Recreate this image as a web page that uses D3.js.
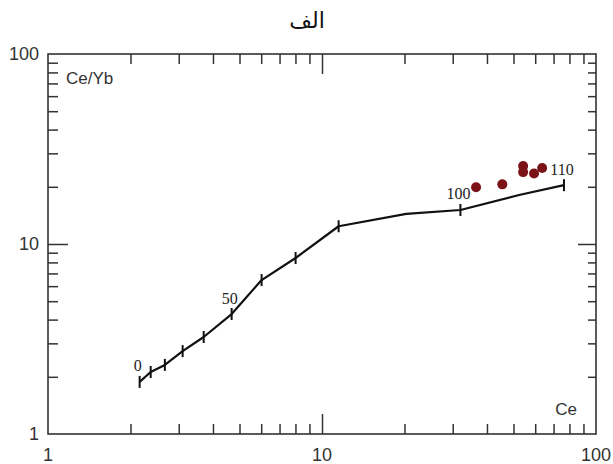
<!DOCTYPE html>
<html>
<head>
<meta charset="utf-8">
<script src="https://cdn.jsdelivr.net/npm/d3@7"></script>
<style>
  body { margin: 0; background: #fff; }
  svg { display: block; }
</style>
</head>
<body>
<div id="vis"></div>
<script>
// ── CONFIG ─────────────────────────────────────────────────────────────
const width  = 613;
const height = 464;
const margin = { top: 54, right: 17, bottom: 30, left: 48 };

// ── DATA ───────────────────────────────────────────────────────────────
// melting curve: Ce (x) vs Ce/Yb (y), with % labels on the ticks
const curveCe   = [2.16, 2.37, 2.67, 3.10, 3.70, 4.68, 6.02, 8.01, 11.5, 20.3, 32.0, 52.4, 76.4];
const curveCeYb = [1.88, 2.12, 2.31, 2.73, 3.24, 4.28, 6.46, 8.44, 12.4, 14.4, 15.1, 18.1, 20.4];
const curveStep = [0, 10, 20, 30, 40, 50, 60, 70, 80, null, 100, null, 110];
const labelledSteps = [0, 50, 100, 110];

// samples
const sampleCe   = [36.5, 45.5, 54.2, 54.2, 59.4, 63.6];
const sampleCeYb = [19.9, 20.6, 25.7, 23.9, 23.5, 25.1];

const majorTicks = [1, 10, 100];
const minorTicks = [2, 3, 4, 5, 6, 7, 8, 9, 20, 30, 40, 50, 60, 70, 80, 90];

const title = "الف";
const xLabel = "Ce";
const yLabel = "Ce/Yb";

// ── SVG ────────────────────────────────────────────────────────────────
const svg = d3.select("#vis").append("svg")
    .attr("width", width)
    .attr("height", height);

const x = d3.scaleLog([1, 100], [margin.left, width - margin.right]);
const y = d3.scaleLog([1, 100], [height - margin.bottom, margin.top]);

const axisColor = "#333";

// title
svg.append("text")
    .attr("x", 307).attr("y", 20)
    .attr("text-anchor", "middle")
    .attr("dominant-baseline", "central")
    .style("font", "22px 'DejaVu Serif', 'DejaVu Sans', serif")
    .attr("fill", "#111")
    .text(title);

// frame
svg.append("rect")
    .attr("x", x(1)).attr("y", y(100))
    .attr("width", x(100) - x(1))
    .attr("height", y(1) - y(100))
    .attr("fill", "none")
    .attr("stroke", axisColor)
    .attr("stroke-width", 1.6);

// inward ticks on all four sides
function tickAxis(axisFn, scale, values, size, transform) {
  const g = svg.append("g")
      .attr("transform", transform)
      .call(axisFn(scale).tickValues(values).tickSize(-size).tickFormat(""));
  g.select(".domain").remove();
  g.selectAll(".tick line").attr("stroke", axisColor).attr("stroke-width", 1.5);
}
const inner = [10];
tickAxis(d3.axisBottom, x, minorTicks, 10, `translate(0,${y(1)})`);
tickAxis(d3.axisBottom, x, inner, 20, `translate(0,${y(1)})`);
tickAxis(d3.axisTop, x, minorTicks, 10, `translate(0,${y(100)})`);
tickAxis(d3.axisTop, x, inner, 20, `translate(0,${y(100)})`);
tickAxis(d3.axisLeft, y, minorTicks, 10, `translate(${x(1)},0)`);
tickAxis(d3.axisLeft, y, inner, 20, `translate(${x(1)},0)`);
tickAxis(d3.axisRight, y, minorTicks, 8, `translate(${x(100)},0)`);
tickAxis(d3.axisRight, y, inner, 18, `translate(${x(100)},0)`);

// tick labels
const labelFont = "18px 'Liberation Sans', Arial, sans-serif";
svg.append("g").selectAll("text")
  .data(majorTicks)
  .join("text")
    .attr("x", d => x(d))
    .attr("y", 455)
    .attr("text-anchor", "middle")
    .attr("dominant-baseline", "central")
    .attr("fill", axisColor)
    .style("font", labelFont)
    .text(d => d);

svg.append("g").selectAll("text")
  .data(majorTicks)
  .join("text")
    .attr("x", 39)
    .attr("y", d => y(d))
    .attr("text-anchor", "end")
    .attr("dominant-baseline", "central")
    .attr("fill", axisColor)
    .style("font", labelFont)
    .text(d => d);

// axis titles inside the frame
svg.append("text")
    .attr("x", 66).attr("y", 78)
    .attr("dominant-baseline", "central")
    .attr("fill", axisColor)
    .style("font", "17px 'Liberation Sans', Arial, sans-serif")
    .text(yLabel);

svg.append("text")
    .attr("x", 577).attr("y", 409)
    .attr("text-anchor", "end")
    .attr("dominant-baseline", "central")
    .attr("fill", axisColor)
    .style("font", "17px 'Liberation Sans', Arial, sans-serif")
    .text(xLabel);

// ── MELTING CURVE ──────────────────────────────────────────────────────
const curve = curveCe.map((c, i) => ({ ce: c, ratio: curveCeYb[i], step: curveStep[i] }));

svg.append("path")
    .datum(curve)
    .attr("fill", "none")
    .attr("stroke", "#111")
    .attr("stroke-width", 2.2)
    .attr("stroke-linejoin", "round")
    .attr("d", d3.line().x(d => x(d.ce)).y(d => y(d.ratio)));

const marked = curve.filter(d => d.step !== null);

svg.append("g").selectAll("line")
  .data(marked)
  .join("line")
    .attr("x1", d => x(d.ce)).attr("x2", d => x(d.ce))
    .attr("y1", d => y(d.ratio) - 6).attr("y2", d => y(d.ratio) + 6)
    .attr("stroke", "#111")
    .attr("stroke-width", 2);

svg.append("g").selectAll("text")
  .data(marked.filter(d => labelledSteps.includes(d.step)))
  .join("text")
    .attr("x", d => x(d.ce) - 2)
    .attr("y", d => y(d.ratio) - 16)
    .attr("text-anchor", "middle")
    .attr("dominant-baseline", "central")
    .attr("fill", "#222")
    .style("font", "16px 'Liberation Serif', 'Times New Roman', serif")
    .text(d => d.step);

// ── SAMPLES ────────────────────────────────────────────────────────────
svg.append("g").selectAll("circle")
  .data(sampleCe.map((c, i) => ({ ce: c, ratio: sampleCeYb[i] })))
  .join("circle")
    .attr("cx", d => x(d.ce))
    .attr("cy", d => y(d.ratio))
    .attr("r", 5)
    .attr("fill", "#7a1218");
</script>
</body>
</html>
